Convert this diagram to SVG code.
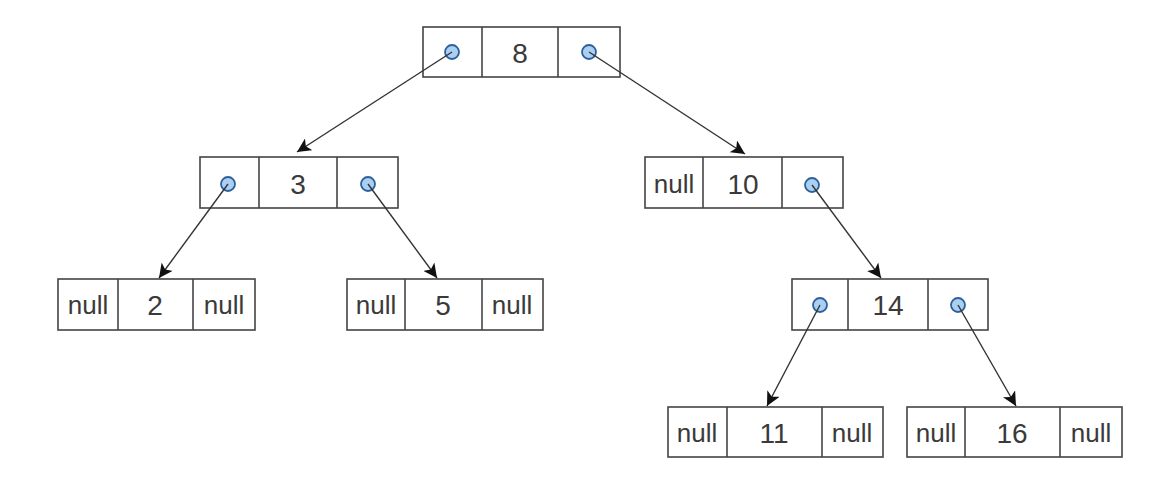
<svg xmlns="http://www.w3.org/2000/svg" width="1158" height="483" viewBox="0 0 1158 483">
<defs>
<marker id="ah" viewBox="0 0 10 10" refX="10" refY="5" markerWidth="14" markerHeight="14" markerUnits="userSpaceOnUse" orient="auto">
<path d="M0,0 L10,5 L0,10 L2.5,5 Z" fill="#111"/>
</marker>
<style>
.box{fill:#fff;stroke:#444;stroke-width:1.6}
.div{stroke:#444;stroke-width:1.6}
.ptr{fill:#a9d0f2;stroke:#2f5f9a;stroke-width:1.8}
.t{font-family:"Liberation Sans",Arial,sans-serif;font-size:28px;fill:#3a3a3a;text-anchor:middle;dominant-baseline:central}
.n{font-family:"Liberation Sans",Arial,sans-serif;font-size:26px;fill:#3a3a3a;text-anchor:middle;dominant-baseline:central}
.e{stroke:#333;stroke-width:1.4;fill:none;marker-end:url(#ah)}
</style>
</defs>
<rect width="1158" height="483" fill="#fff"/>
<g id="node8">
<rect class="box" x="423" y="27" width="197" height="50"/>
<line class="div" x1="482" y1="27" x2="482" y2="77"/>
<line class="div" x1="558" y1="27" x2="558" y2="77"/>
<text class="t" x="520" y="53">8</text>
<circle class="ptr" cx="452" cy="52" r="7"/>
<circle class="ptr" cx="589" cy="52" r="7"/>
</g>
<g id="node3">
<rect class="box" x="200" y="157" width="198" height="51"/>
<line class="div" x1="259" y1="157" x2="259" y2="208"/>
<line class="div" x1="337" y1="157" x2="337" y2="208"/>
<text class="t" x="298" y="184">3</text>
<circle class="ptr" cx="228" cy="184" r="7"/>
<circle class="ptr" cx="368" cy="184" r="7"/>
</g>
<g id="node10">
<rect class="box" x="645" y="157" width="198" height="51"/>
<line class="div" x1="703" y1="157" x2="703" y2="208"/>
<line class="div" x1="782" y1="157" x2="782" y2="208"/>
<text class="n" x="674" y="184">null</text>
<text class="t" x="743" y="184">10</text>
<circle class="ptr" cx="812" cy="185" r="7"/>
</g>
<g id="node2">
<rect class="box" x="58" y="279" width="197" height="51"/>
<line class="div" x1="118" y1="279" x2="118" y2="330"/>
<line class="div" x1="193" y1="279" x2="193" y2="330"/>
<text class="n" x="88" y="305">null</text>
<text class="t" x="155" y="305">2</text>
<text class="n" x="224" y="305">null</text>
</g>
<g id="node5">
<rect class="box" x="347" y="279" width="196" height="51"/>
<line class="div" x1="405" y1="279" x2="405" y2="330"/>
<line class="div" x1="482" y1="279" x2="482" y2="330"/>
<text class="n" x="376" y="305">null</text>
<text class="t" x="443" y="305">5</text>
<text class="n" x="512" y="305">null</text>
</g>
<g id="node14">
<rect class="box" x="792" y="279" width="196" height="51"/>
<line class="div" x1="848" y1="279" x2="848" y2="330"/>
<line class="div" x1="928" y1="279" x2="928" y2="330"/>
<text class="t" x="888" y="305">14</text>
<circle class="ptr" cx="820" cy="305" r="7"/>
<circle class="ptr" cx="958" cy="305" r="7"/>
</g>
<g id="node11">
<rect class="box" x="668" y="407" width="215" height="50"/>
<line class="div" x1="727" y1="407" x2="727" y2="457"/>
<line class="div" x1="822" y1="407" x2="822" y2="457"/>
<text class="n" x="697" y="433">null</text>
<text class="t" x="774" y="433">11</text>
<text class="n" x="852" y="433">null</text>
</g>
<g id="node16">
<rect class="box" x="907" y="407" width="215" height="50"/>
<line class="div" x1="965" y1="407" x2="965" y2="457"/>
<line class="div" x1="1060" y1="407" x2="1060" y2="457"/>
<text class="n" x="936" y="433">null</text>
<text class="t" x="1012" y="433">16</text>
<text class="n" x="1091" y="433">null</text>
</g>
<g id="connectors">
<line class="e" x1="452" y1="52" x2="297" y2="152"/>
<line class="e" x1="589" y1="52" x2="745" y2="154"/>
<line class="e" x1="228" y1="184" x2="159" y2="278"/>
<line class="e" x1="368" y1="184" x2="437" y2="278"/>
<line class="e" x1="812" y1="185" x2="881" y2="278"/>
<line class="e" x1="820" y1="305" x2="767" y2="406"/>
<line class="e" x1="958" y1="305" x2="1016" y2="406"/>
</g>
</svg>
